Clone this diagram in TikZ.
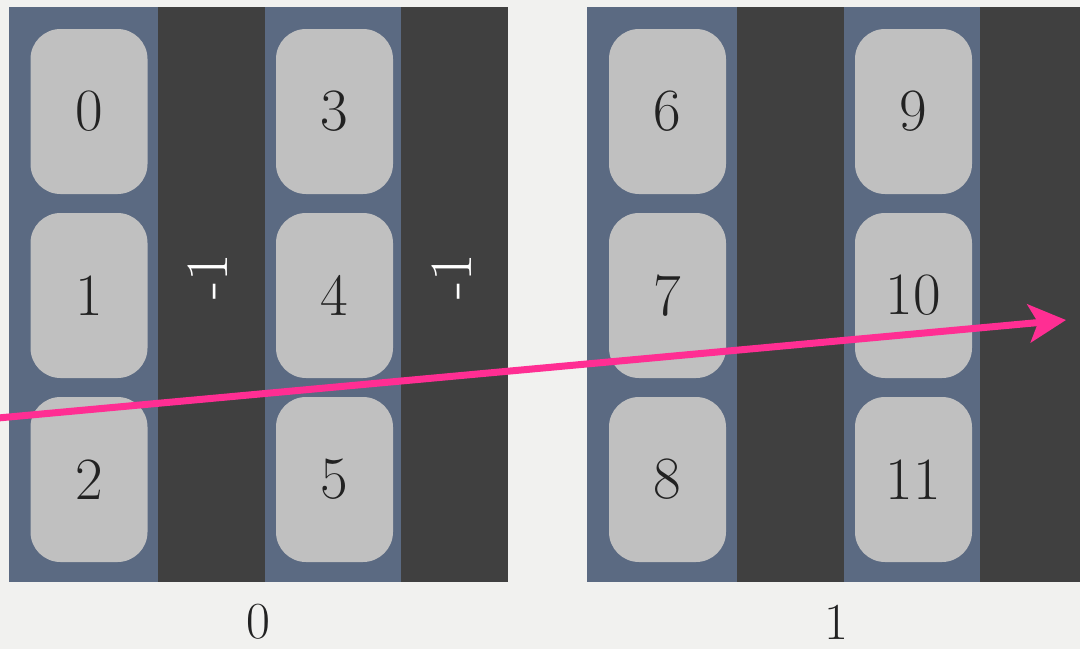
\documentclass[tikz,border=0pt]{standalone}
\usetikzlibrary{arrows.meta}
\definecolor{bgc}{HTML}{F1F1EF}
\definecolor{bluec}{HTML}{5B6A82}
\definecolor{darkc}{HTML}{404040}
\definecolor{boxc}{HTML}{C0C0C0}
\definecolor{txtc}{HTML}{222222}
\definecolor{pinkc}{HTML}{FF2E93}
\tikzset{
  cell/.style={fill=boxc, draw=none, rounded corners=30pt, minimum width=117pt, minimum height=165pt, inner sep=0pt, text=txtc, font=\fontsize{60}{60}\selectfont},
  neg/.style={text=white, rotate=90, font=\fontsize{60}{60}\selectfont},
  blocklabel/.style={text=txtc, inner sep=0pt, font=\fontsize{52}{52}\selectfont},
  ptr/.style={draw=pinkc, line width=7pt, -{Stealth[length=37pt,width=38pt,inset=9pt]}}
}
\begin{document}
\begin{tikzpicture}[x=1pt,y=-1pt]
\useasboundingbox (0,0) rectangle (1080,649);
\fill[bgc] (0,0) rectangle (1080,649);
% block 0
\fill[bluec] (9,7) rectangle (158,582);
\fill[darkc] (158,7) rectangle (265,582);
\fill[bluec] (265,7) rectangle (401,582);
\fill[darkc] (401,7) rectangle (508,582);
% block 1
\fill[bluec] (587,7) rectangle (737,582);
\fill[darkc] (737,7) rectangle (844,582);
\fill[bluec] (844,7) rectangle (980,582);
\fill[darkc] (980,7) rectangle (1080,582);
% cells
\node[cell] (b0) at (89,111.5) {0};
\node[cell] (b1) at (89,295.5) {1};
\node[cell] (b2) at (89,479.5) {2};
\node[cell] (b3) at (334.5,111.5) {3};
\node[cell] (b4) at (334.5,295.5) {4};
\node[cell] (b5) at (334.5,479.5) {5};
\node[cell] (b6) at (667.5,111.5) {6};
\node[cell] (b7) at (667.5,295.5) {7};
\node[cell] (b8) at (667.5,479.5) {8};
\node[cell] (b9) at (913.5,111.5) {9};
\node[cell] (b10) at (913.5,295.5) {10};
\node[cell] (b11) at (913.5,479.5) {11};
% -1 labels
\node[neg] (n0) at (208,277) {-1};
\node[neg] (n1) at (452,277) {-1};
% block labels
\node[blocklabel] (l0) at (258,622) {0};
\node[blocklabel] (l1) at (836,622) {1};
% arrow
\coordinate (s) at (-2,418);
\coordinate (e) at (1066,320);
\draw[ptr] (s) -- (e);
\end{tikzpicture}
\end{document}
